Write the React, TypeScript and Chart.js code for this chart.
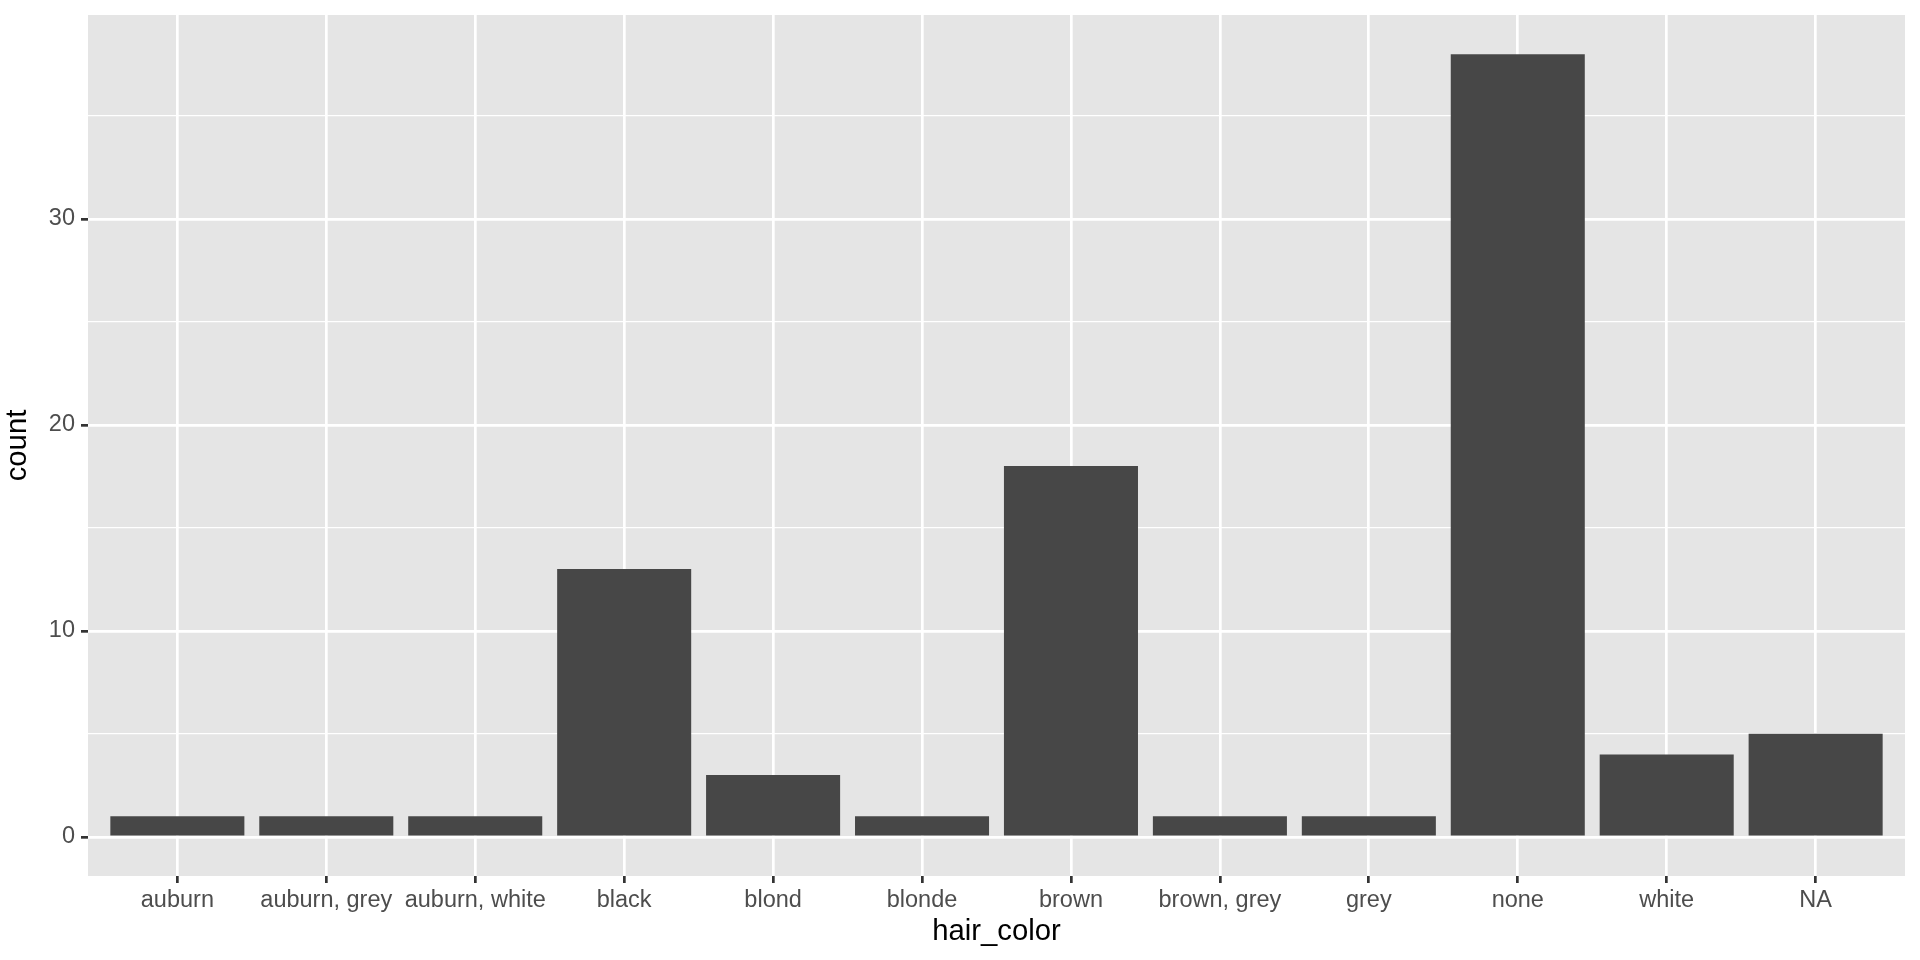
import React, { useEffect, useRef } from "react";
import { Chart, registerables } from "chart.js";

Chart.register(...registerables);

const categories = [
  "auburn",
  "auburn, grey",
  "auburn, white",
  "black",
  "blond",
  "blonde",
  "brown",
  "brown, grey",
  "grey",
  "none",
  "white",
  "NA",
];
const counts = [1, 1, 1, 13, 3, 1, 18, 1, 1, 38, 4, 5];
const yMajorTicks = [0, 10, 20, 30];
const yMinorTicks = [5, 15, 25, 35];

const FONT = "'Liberation Sans', Arial, Helvetica, sans-serif";
const PANEL_BG = "#E5E5E5";
const BAR_COLOR = "#474747";

const panelBackground = {
  id: "panelBackground",
  beforeDraw(chart: any) {
    const { ctx, chartArea } = chart;
    ctx.save();
    ctx.fillStyle = PANEL_BG;
    ctx.fillRect(
      chartArea.left,
      chartArea.top,
      chartArea.right - chartArea.left,
      chartArea.bottom - chartArea.top
    );
    ctx.restore();
  },
};

export default function App() {
  const canvasRef = useRef<HTMLCanvasElement | null>(null);

  useEffect(() => {
    if (!canvasRef.current) return;
    const n = categories.length;
    const maxVal = Math.max(...counts);
    const yExpand = maxVal * 0.05;
    const data = counts.map((c, i) => ({ x: i + 1, y: c }));

    const chart = new Chart(canvasRef.current, {
      type: "bar",
      data: {
        datasets: [
          {
            data: data as any,
            backgroundColor: BAR_COLOR,
            borderWidth: 0,
            barPercentage: 0.9,
            categoryPercentage: 1,
          },
        ],
      },
      plugins: [panelBackground],
      options: {
        animation: false,
        responsive: false,
        devicePixelRatio: 1,
        layout: { padding: { left: 0, top: 15, right: 15, bottom: 0 } },
        plugins: {
          legend: { display: false },
          tooltip: { enabled: false },
        },
        scales: {
          x: {
            type: "linear",
            min: 0.4,
            max: n + 0.6,
            offset: false,
            afterBuildTicks: (scale: any) => {
              scale.ticks = categories.map((_, i) => ({ value: i + 1 }));
            },
            afterFit: (scale: any) => {
              scale.height = 84;
              scale.paddingLeft = 0;
              scale.paddingRight = 0;
              scale.paddingTop = 0;
              scale.paddingBottom = 0;
            },
            border: { display: false },
            grid: {
              offset: false,
              color: "#FFFFFF",
              lineWidth: 2.7,
              drawTicks: true,
              tickLength: 7,
              tickColor: "#333333",
              tickWidth: 2.7,
            },
            ticks: {
              autoSkip: false,
              maxRotation: 0,
              minRotation: 0,
              padding: 3,
              color: "#4D4D4D",
              font: { family: FONT, size: 23.5 },
              callback: (v: any) => categories[Math.round(Number(v)) - 1] ?? "",
            },
            title: {
              display: true,
              text: "hair_color",
              color: "#000000",
              font: { family: FONT, size: 29.3 },
              padding: { top: 0, bottom: 11 },
            },
          },
          y: {
            type: "linear",
            min: -yExpand,
            max: maxVal + yExpand,
            afterBuildTicks: (scale: any) => {
              scale.ticks = [...yMajorTicks, ...yMinorTicks]
                .sort((a, b) => a - b)
                .map((v) => ({ value: v }));
            },
            afterFit: (scale: any) => {
              scale.width = 88;
              scale.paddingLeft = 0;
              scale.paddingRight = 0;
              scale.paddingTop = 0;
              scale.paddingBottom = 0;
            },
            border: { display: false },
            grid: {
              color: "#FFFFFF",
              lineWidth: (ctx: any) =>
                yMajorTicks.includes(ctx.tick?.value) ? 2.7 : 1.3,
              drawTicks: true,
              tickLength: 7,
              tickColor: (ctx: any) =>
                yMajorTicks.includes(ctx.tick?.value) ? "#333333" : "rgba(0,0,0,0)",
              tickWidth: 2.7,
            },
            ticks: {
              padding: 6,
              color: "#4D4D4D",
              font: { family: FONT, size: 23.5 },
              callback: (v: any) =>
                yMajorTicks.includes(Number(v)) ? String(v) : "",
            },
            title: {
              display: true,
              text: "count",
              color: "#000000",
              font: { family: FONT, size: 29.3 },
              padding: { top: 0, bottom: 0 },
            },
          },
        },
      } as any,
    });

    return () => chart.destroy();
  }, []);

  return (
    <div
      style={{
        position: "absolute",
        left: 0,
        top: 0,
        width: 1920,
        height: 960,
        background: "#FFFFFF",
      }}
    >
      <canvas ref={canvasRef} width={1920} height={960} />
    </div>
  );
}
